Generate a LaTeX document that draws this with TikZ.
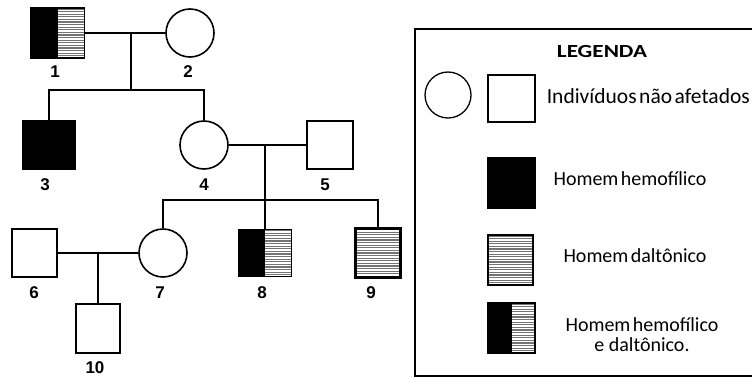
\documentclass[tikz,border=0pt]{standalone}
\usepackage{fontspec}
\setmainfont{Liberation Sans}
\newfontfamily\legfont{Carlito}
\newcommand\tightsp{\spaceskip=0.12em plus 0.02em\relax}
\begin{document}
\begin{tikzpicture}[x=1pt,y=-1pt,
  line width=1.6pt,
  sq/.style={rectangle,draw,line width=1.6pt,inner sep=0pt,minimum width=#1},
  sq/.default=47pt,
  ci/.style={circle,draw,line width=1.6pt,inner sep=0pt,minimum size=48pt},
  num/.style={font=\bfseries\fontsize{17}{17}\selectfont,inner sep=0pt},
  leg/.style={font=\legfont\fontsize{20}{20}\selectfont,inner sep=0pt,align=center},
  hatchfill/.style={path picture={
    \fill[white] (path picture bounding box.south west) rectangle (path picture bounding box.north east);
    \foreach \k in {0,...,22}
      \draw[black!55,line width=1.2pt]
        ([yshift=-\k*2.6pt-1pt]path picture bounding box.north west) --
        ([yshift=-\k*2.6pt-1pt]path picture bounding box.north east);
  }},
  halffill/.style={path picture={
    \fill[white] (path picture bounding box.south west) rectangle (path picture bounding box.north east);
    \foreach \k in {0,...,22}
      \draw[black!55,line width=1.2pt]
        ([yshift=-\k*2.6pt-1pt]path picture bounding box.north west) --
        ([yshift=-\k*2.6pt-1pt]path picture bounding box.north east);
    \fill[black] (path picture bounding box.south west) rectangle (path picture bounding box.north);
  }}
]
\useasboundingbox (0,0) rectangle (752,378);

% generation I
\node[sq=54pt,minimum height=50pt,halffill] (n1) at (57.5,33) {};
\node[ci] (n2) at (190,33) {};
\node[num] (l1) at (55,72) {1};
\node[num] (l2) at (188,72) {2};

% generation II
\node[sq=52pt,minimum height=49pt,fill=black] (n3) at (49,145) {};
\node[ci] (n4) at (204,145) {};
\node[sq=46pt,minimum height=48pt] (n5) at (330,145) {};
\node[num] (l3) at (45,185) {3};
\node[num] (l4) at (204,185) {4};
\node[num] (l5) at (325,185) {5};

% generation III
\node[sq=45pt,minimum height=48pt] (n6) at (34.5,253) {};
\node[ci] (n7) at (163,253) {};
\node[sq=53pt,minimum height=47pt,halffill] (n8) at (265,253) {};
\node[sq=45pt,minimum height=49pt,hatchfill,line width=2.4pt] (n9) at (378,253) {};
\node[num] (l6) at (34,293) {6};
\node[num] (l7) at (160,293) {7};
\node[num] (l8) at (262,293) {8};
\node[num] (l9) at (371,293) {9};

% generation IV
\node[sq=44pt,minimum height=49pt] (n10) at (98,328.5) {};
\node[num] (l10) at (95,368) {10};

% mating and descent lines
\coordinate (m12) at (131,33);
\coordinate (s12) at (131,90);
\draw (n1.east) -- (n2.west);
\draw (m12) -- (s12);
\draw (n3.north) |- (s12) -| (n4.north);

\coordinate (m45) at (265,145);
\coordinate (s45) at (265,200);
\draw (n4.east) -- (n5.west);
\draw (m45) -- (n8.north);
\draw (n7.north) |- (s45) -| (n9.north);

\coordinate (m67) at (98,253);
\draw (n6.east) -- (n7.west);
\draw (m67) -- (n10.north);

% legend
\draw[line width=1.8pt] (415,29) rectangle (760,376);
\node[inner sep=0pt,xscale=1.25,font=\legfont\bfseries\fontsize{18.5}{18.5}\selectfont] (lt) at (602,51) {LEGENDA};
\node[ci,minimum size=46pt,line width=1.3pt] (lc) at (448,95) {};
\node[sq=47pt,minimum height=47pt,line width=1.3pt] (ls) at (511.5,98.5) {};
\node[leg,anchor=west,font=\legfont\fontsize{21.5}{21.5}\selectfont] (lts) at (546,96) {\tightsp Indivíduos não afetados};
\node[sq=47pt,minimum height=50pt,fill=black,line width=1.3pt] (lh) at (511.5,183) {};
\node[leg] (lth) at (630,179) {\tightsp Homem hemofílico};
\node[sq=45pt,minimum height=50pt,hatchfill,line width=1.5pt] (ld) at (510.5,260) {};
\node[leg] (ltd) at (635,256) {\tightsp Homem daltônico};
\node[sq=47pt,minimum height=50pt,halffill,line width=1.3pt] (lb) at (511.5,328) {};
\node[leg] (ltb) at (642,335) {\tightsp Homem hemofílico\\e daltônico.};
\end{tikzpicture}
\end{document}
